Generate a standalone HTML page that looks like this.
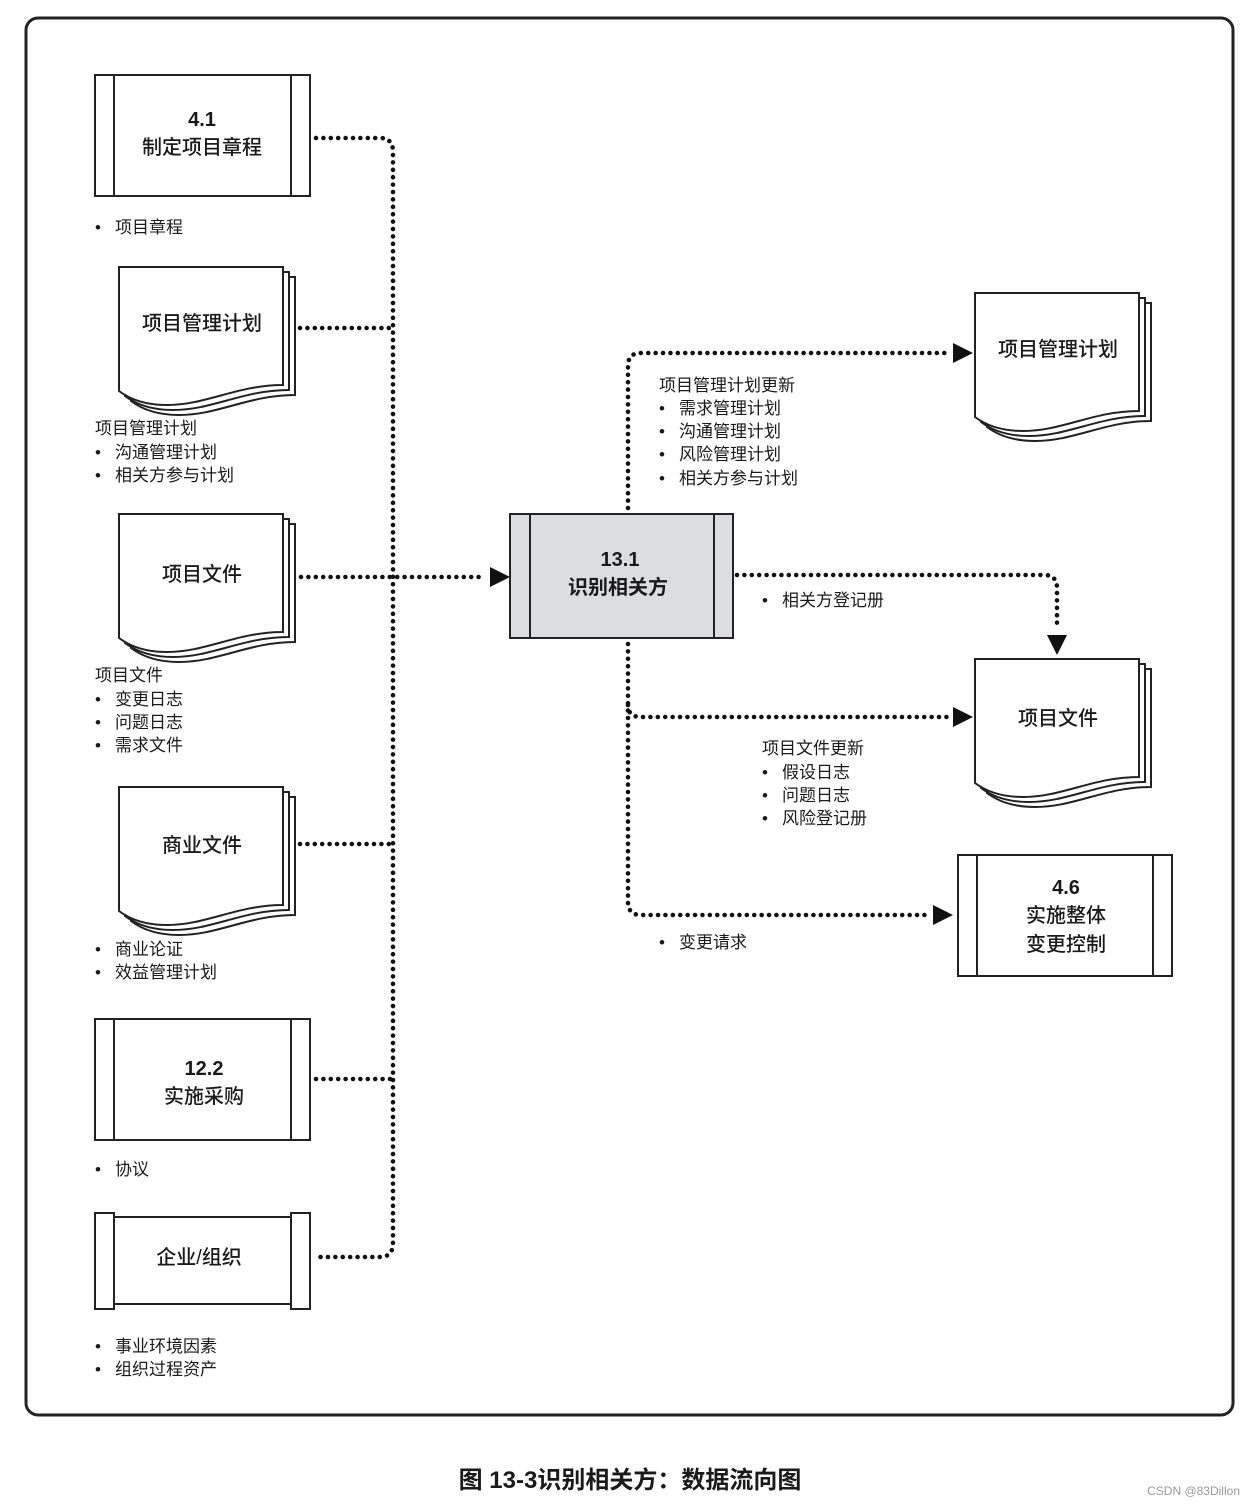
<!DOCTYPE html>
<html><head><meta charset="utf-8"><style>
body{margin:0;background:#fff}
svg text{font-family:"Liberation Sans","Noto Sans CJK SC",sans-serif;fill:#1a1a1a;white-space:pre}
.d{fill:none;stroke:#111;stroke-width:4.6;stroke-linecap:round;stroke-dasharray:0 7.4}
.b{fill:#fff;stroke:#222;stroke-width:2}
.l{font-size:17px}
.t{font-size:20px;font-weight:500;text-anchor:middle}
.n{font-weight:bold}
</style></head><body>
<svg width="1255" height="1505" viewBox="0 0 1255 1505" xmlns="http://www.w3.org/2000/svg">
<defs>
<g id="doc">
<path class="b" d="M12,10 H176 V128 C130,128 100,148 60,148 C35,148 20,140 12,134 Z"/>
<path class="b" d="M6,5 H170 V123 C124,123 94,143 54,143 C29,143 14,135 6,129 Z"/>
<path class="b" d="M0,0 H164 V118 C118,118 88,138 48,138 C23,138 8,130 0,124 Z"/>
</g>
</defs>
<rect x="26" y="18" width="1207" height="1397" rx="12" fill="none" stroke="#222" stroke-width="3"/>

<rect class="b" x="95" y="75" width="215" height="121"/>
<line x1="114" y1="75" x2="114" y2="196" stroke="#222" stroke-width="2"/>
<line x1="291" y1="75" x2="291" y2="196" stroke="#222" stroke-width="2"/>
<text class="t n" x="202" y="126">4.1</text>
<text class="t" x="202" y="154">制定项目章程</text>
<text class="l" y="233"><tspan x="95">•</tspan><tspan x="115">项目章程</tspan></text>

<use href="#doc" x="119" y="267"/>
<text class="t" x="202" y="330">项目管理计划</text>
<text class="l" x="95" y="434">项目管理计划</text>
<text class="l" y="458"><tspan x="95">•</tspan><tspan x="115">沟通管理计划</tspan></text>
<text class="l" y="481"><tspan x="95">•</tspan><tspan x="115">相关方参与计划</tspan></text>

<use href="#doc" x="119" y="514"/>
<text class="t" x="202" y="581">项目文件</text>
<text class="l" x="95" y="681">项目文件</text>
<text class="l" y="705"><tspan x="95">•</tspan><tspan x="115">变更日志</tspan></text>
<text class="l" y="728"><tspan x="95">•</tspan><tspan x="115">问题日志</tspan></text>
<text class="l" y="751"><tspan x="95">•</tspan><tspan x="115">需求文件</tspan></text>

<use href="#doc" x="119" y="787"/>
<text class="t" x="202" y="852">商业文件</text>
<text class="l" y="955"><tspan x="95">•</tspan><tspan x="115">商业论证</tspan></text>
<text class="l" y="978"><tspan x="95">•</tspan><tspan x="115">效益管理计划</tspan></text>

<rect class="b" x="95" y="1019" width="215" height="121"/>
<line x1="114" y1="1019" x2="114" y2="1140" stroke="#222" stroke-width="2"/>
<line x1="291" y1="1019" x2="291" y2="1140" stroke="#222" stroke-width="2"/>
<text class="t n" x="204" y="1075">12.2</text>
<text class="t" x="204" y="1103">实施采购</text>
<text class="l" y="1175"><tspan x="95">•</tspan><tspan x="115">协议</tspan></text>

<rect class="b" x="114" y="1217" width="177" height="87"/>
<rect class="b" x="95" y="1213" width="19" height="96"/>
<rect class="b" x="291" y="1213" width="19" height="96"/>
<text class="t" x="199" y="1264">企业/组织</text>
<text class="l" y="1352"><tspan x="95">•</tspan><tspan x="115">事业环境因素</tspan></text>
<text class="l" y="1375"><tspan x="95">•</tspan><tspan x="115">组织过程资产</tspan></text>

<path class="d" d="M316,138 H380 Q393,138 393,152 V1243 Q393,1257 380,1257 H314"/>
<path class="d" d="M300,328 H393"/>
<path class="d" d="M300,844 H393"/>
<path class="d" d="M316,1079 H393"/>
<path class="d" d="M301,577 H486"/>
<polygon points="490,567 510,577 490,587" fill="#111"/>

<rect x="510" y="514" width="223" height="124" fill="#dcdde0" stroke="#222" stroke-width="2"/>
<line x1="530" y1="514" x2="530" y2="638" stroke="#222" stroke-width="2"/>
<line x1="714" y1="514" x2="714" y2="638" stroke="#222" stroke-width="2"/>
<text class="t n" x="620" y="566">13.1</text>
<text class="t n" x="618" y="594">识别相关方</text>

<path class="d" d="M628,508 V366 Q628,353 641,353 H948"/>
<polygon points="953,343 973,353 953,363" fill="#111"/>
<text class="l" x="659" y="391">项目管理计划更新</text>
<text class="l" y="414"><tspan x="659">•</tspan><tspan x="679">需求管理计划</tspan></text>
<text class="l" y="437"><tspan x="659">•</tspan><tspan x="679">沟通管理计划</tspan></text>
<text class="l" y="460"><tspan x="659">•</tspan><tspan x="679">风险管理计划</tspan></text>
<text class="l" y="484"><tspan x="659">•</tspan><tspan x="679">相关方参与计划</tspan></text>
<use href="#doc" x="975" y="293"/>
<text class="t" x="1058" y="356">项目管理计划</text>

<path class="d" d="M737,575 H1044 Q1057,575 1057,588 V630"/>
<polygon points="1047,635 1067,635 1057,655" fill="#111"/>
<text class="l" y="606"><tspan x="762">•</tspan><tspan x="782">相关方登记册</tspan></text>
<use href="#doc" x="975" y="659"/>
<text class="t" x="1058" y="725">项目文件</text>

<path class="d" d="M628,644 V902 Q628,915 641,915 H928"/>
<polygon points="933,905 953,915 933,925" fill="#111"/>
<path class="d" d="M628,705 Q628,717 641,717 H948"/>
<polygon points="953,707 973,717 953,727" fill="#111"/>
<text class="l" x="762" y="754">项目文件更新</text>
<text class="l" y="778"><tspan x="762">•</tspan><tspan x="782">假设日志</tspan></text>
<text class="l" y="801"><tspan x="762">•</tspan><tspan x="782">问题日志</tspan></text>
<text class="l" y="824"><tspan x="762">•</tspan><tspan x="782">风险登记册</tspan></text>
<text class="l" y="948"><tspan x="659">•</tspan><tspan x="679">变更请求</tspan></text>

<rect class="b" x="958" y="855" width="214" height="121"/>
<line x1="977" y1="855" x2="977" y2="976" stroke="#222" stroke-width="2"/>
<line x1="1153" y1="855" x2="1153" y2="976" stroke="#222" stroke-width="2"/>
<text class="t n" x="1066" y="894">4.6</text>
<text class="t" x="1066" y="922">实施整体</text>
<text class="t" x="1066" y="951">变更控制</text>

<text x="630" y="1488" style="font-size:24px;font-weight:bold;text-anchor:middle">图 13-3识别相关方：数据流向图</text>
<text x="1240" y="1495" style="font-size:12px;fill:#999;text-anchor:end">CSDN @83Dillon</text>
</svg>
</body></html>
